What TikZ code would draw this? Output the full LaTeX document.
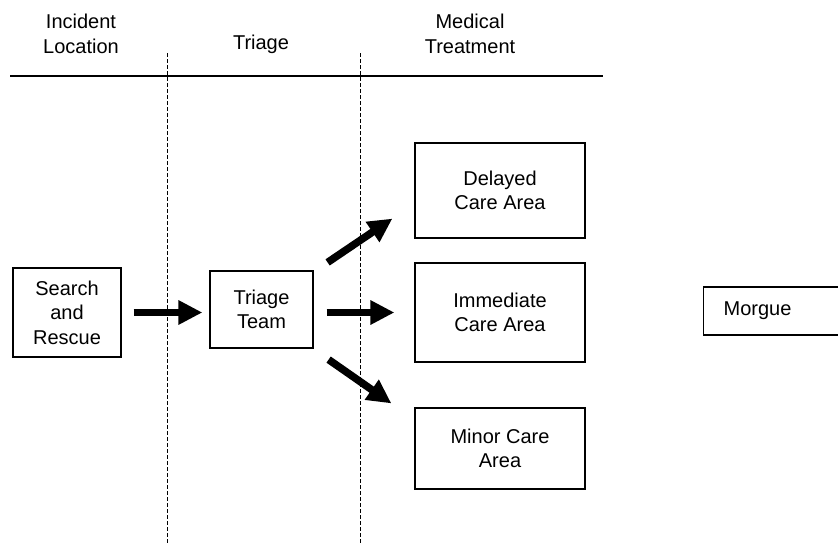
\documentclass[tikz,border=0pt]{standalone}
\usepackage{fontspec}
\setmainfont{Liberation Sans}
\usetikzlibrary{arrows.meta,positioning}

\begin{document}
\begin{tikzpicture}[
    x=1pt, y=-1pt,
    font=\fontsize{20}{24.5}\selectfont,
    box/.style={rectangle, draw=black, line width=1.2pt, align=center, inner sep=0pt},
    header/.style={align=center, inner sep=0pt},
    lane/.style={line width=0.7pt, dash pattern=on 4pt off 2pt},
    fat/.style={line width=7.5pt, -{Triangle[length=24pt,width=23pt]}},
]
    \useasboundingbox (0,0) rectangle (838,544);

    % Column headers
    \node[header] (incident) at (81,34) {Incident\\Location};
    \node[header] (triagehead) at (261,44) {Triage};
    \node[header] (medical) at (470,34) {Medical\\Treatment};

    % Header rule and lanes
    \draw[line width=1.8pt] (10,76) -- (603,76);
    \draw[lane] (167,53) -- (167,544);
    \draw[lane] (360,53) -- (360,544);

    % Boxes
    \node[box, minimum width=108pt, minimum height=89pt] (rescue) at (67,312.5) {Search\\and\\Rescue};
    \node[box, minimum width=103pt, minimum height=77pt] (team) at (261.5,309.5) {Triage\\Team};
    \node[box, minimum width=170pt, minimum height=95pt] (delayed) at (500,190.5) {Delayed\\Care Area};
    \node[box, minimum width=170pt, minimum height=99pt] (immediate) at (500,312.5) {Immediate\\Care Area};
    \node[box, minimum width=170pt, minimum height=81pt] (minor) at (500,448.5) {Minor Care\\Area};
    \node[box, anchor=west, minimum height=48pt, text width=130pt, align=left, inner xsep=20pt] (morgue) at (703,311) {Morgue};

    % Arrows
    \draw[fat] ([xshift=12pt]rescue.east) -- ([xshift=-7pt]team.west |- rescue.east);
    \draw[fat] ([shift={(14,-8)}]team.north east) -- ([shift={(-22,-20)}]delayed.south west);
    \draw[fat] ([xshift=13pt]team.east |- immediate.west) -- ([xshift=-20pt]immediate.west);
    \draw[fat] ([shift={(15,11)}]team.south east) -- ([shift={(-23,-4)}]minor.north west);
\end{tikzpicture}
\end{document}
